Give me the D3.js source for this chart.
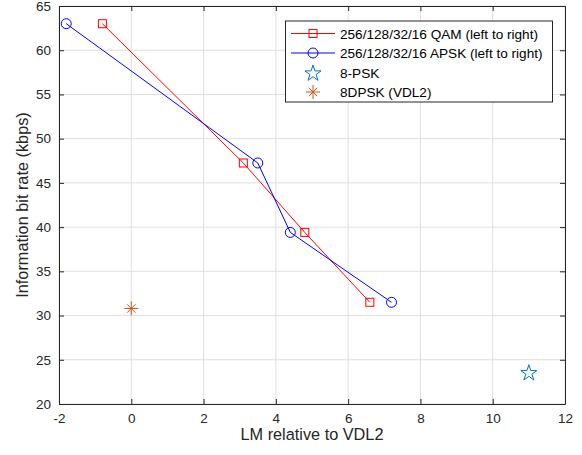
<!DOCTYPE html>
<html>
<head>
<meta charset="utf-8">
<script src="https://cdn.jsdelivr.net/npm/d3@7"></script>
<style>
  body { margin: 0; background: #fff; }
  text { font-family: "Liberation Sans", Arial, sans-serif; }
</style>
</head>
<body>
<div class="chart"></div>
<script>
// QAM and APSK results (left to right)
const qamLM = [-0.8, 3.1, 4.8, 6.6];
const qamRate = [63, 47.25, 39.4, 31.5];
const apskLM = [-1.8, 3.5, 4.4, 7.2];
const apskRate = [63, 47.25, 39.4, 31.5];
const psk8 = [{lm: 11, rate: 23.6}];
const dpsk8 = [{lm: 0, rate: 30.8}];

const xTicks = [-2, 0, 2, 4, 6, 8, 10, 12];
const yTicks = [20, 25, 30, 35, 40, 45, 50, 55, 60, 65];

const legendLabels = [
  '256/128/32/16 QAM (left to right)',
  '256/128/32/16 APSK (left to right)',
  '8-PSK',
  '8DPSK (VDL2)'
];

const width = 582;
const height = 455;
const margin = {top: 6, left: 59, right: 17, bottom: 51};

const x = d3.scaleLinear().domain([-2, 12]).range([margin.left, width - margin.right]);
const y = d3.scaleLinear().domain([20, 65]).range([height - margin.bottom, margin.top]);

const svg = d3.select('.chart').append('svg')
  .attr('width', width).attr('height', height);

const axisColor = '#262626';

// grid
svg.append('g').selectAll('line').data(xTicks).enter().append('line')
  .attr('x1', d => x(d)).attr('x2', d => x(d))
  .attr('y1', y(20)).attr('y2', y(65))
  .attr('stroke', '#dfdfdf').attr('stroke-width', 1);
svg.append('g').selectAll('line').data(yTicks).enter().append('line')
  .attr('x1', x(-2)).attr('x2', x(12))
  .attr('y1', d => y(d)).attr('y2', d => y(d))
  .attr('stroke', '#dfdfdf').attr('stroke-width', 1);

// axes with inward ticks
function styleAxis(g) {
  g.select('.domain').attr('stroke', axisColor);
  g.selectAll('.tick line').attr('stroke', axisColor);
  g.selectAll('.tick text').attr('fill', axisColor)
    .style('font-size', '13.5px').style('font-family', '"Liberation Sans", Arial, sans-serif');
}
const fmt = d => String(d);
svg.append('g').attr('transform', `translate(0,${y(20)})`)
  .call(d3.axisBottom(x).tickValues(xTicks).tickFormat(fmt).tickSizeInner(-5).tickSizeOuter(0).tickPadding(9))
  .call(styleAxis);
svg.append('g').attr('transform', `translate(0,${y(65)})`)
  .call(d3.axisTop(x).tickValues(xTicks).tickSizeInner(-5).tickSizeOuter(0).tickFormat(''))
  .call(styleAxis);
svg.append('g').attr('transform', `translate(${x(-2)},0)`)
  .call(d3.axisLeft(y).tickValues(yTicks).tickFormat(fmt).tickSizeInner(-5).tickSizeOuter(0).tickPadding(8))
  .call(styleAxis);
svg.append('g').attr('transform', `translate(${x(12)},0)`)
  .call(d3.axisRight(y).tickValues(yTicks).tickSizeInner(-5).tickSizeOuter(0).tickFormat(''))
  .call(styleAxis);

// axis titles
svg.append('text')
  .attr('x', (x(-2) + x(12)) / 2).attr('y', 440)
  .attr('text-anchor', 'middle').attr('fill', axisColor)
  .style('font-size', '16.3px').text('LM relative to VDL2');
svg.append('text')
  .attr('transform', `translate(28,${(y(20) + y(65)) / 2}) rotate(-90)`)
  .attr('text-anchor', 'middle').attr('fill', axisColor)
  .style('font-size', '16.3px').text('Information bit rate (kbps)');

const line = d3.line().x(d => x(d[0])).y(d => y(d[1]));
const qam = qamLM.map((v, i) => [v, qamRate[i]]);
const apsk = apskLM.map((v, i) => [v, apskRate[i]]);

svg.append('path').datum(qam).attr('d', line)
  .attr('fill', 'none').attr('stroke', '#ff0000').attr('stroke-width', 1);
svg.append('g').selectAll('rect').data(qam).enter().append('rect')
  .attr('x', d => x(d[0]) - 4).attr('y', d => y(d[1]) - 4)
  .attr('width', 8).attr('height', 8)
  .attr('fill', 'none').attr('stroke', '#ff0000').attr('stroke-width', 1);

svg.append('path').datum(apsk).attr('d', line)
  .attr('fill', 'none').attr('stroke', '#0000ff').attr('stroke-width', 1);
svg.append('g').selectAll('circle').data(apsk).enter().append('circle')
  .attr('cx', d => x(d[0])).attr('cy', d => y(d[1])).attr('r', 5)
  .attr('fill', 'none').attr('stroke', '#0000ff').attr('stroke-width', 1);

const star = d3.symbol().type(d3.symbolStar).size(80);
svg.append('g').selectAll('path').data(psk8).enter().append('path')
  .attr('d', star)
  .attr('transform', d => `translate(${x(d.lm)},${y(d.rate) + 1})`)
  .attr('fill', 'none').attr('stroke', '#0072bd').attr('stroke-width', 1);

// MATLAB-style asterisk: plus and cross
function asterisk(g, cx, cy, r) {
  [0, 45, 90, 135].forEach(a => {
    const rad = a * Math.PI / 180;
    const rr = a % 90 === 0 ? r : r * 0.85;
    g.append('line')
      .attr('x1', cx - rr * Math.sin(rad)).attr('y1', cy - rr * Math.cos(rad))
      .attr('x2', cx + rr * Math.sin(rad)).attr('y2', cy + rr * Math.cos(rad))
      .attr('stroke', '#d95319').attr('stroke-width', 1);
  });
}
dpsk8.forEach(d => asterisk(svg.append('g'), x(d.lm), y(d.rate), 7));

// legend
const lg = svg.append('g');
lg.append('rect').attr('x', 285.5).attr('y', 21).attr('width', 267).attr('height', 81)
  .attr('fill', '#fff').attr('stroke', axisColor).attr('stroke-width', 1);
const rowY = i => 33.5 + i * 19.5;
legendLabels.forEach((t, i) => {
  lg.append('text').attr('x', 340).attr('y', rowY(i) + 5)
    .attr('fill', '#000').style('font-size', '13.6px').text(t);
});
lg.append('line').attr('x1', 291).attr('x2', 335).attr('y1', rowY(0)).attr('y2', rowY(0))
  .attr('stroke', '#ff0000');
lg.append('rect').attr('x', 309).attr('y', rowY(0) - 4).attr('width', 8).attr('height', 8)
  .attr('fill', 'none').attr('stroke', '#ff0000');
lg.append('line').attr('x1', 291).attr('x2', 335).attr('y1', rowY(1)).attr('y2', rowY(1))
  .attr('stroke', '#0000ff');
lg.append('circle').attr('cx', 313).attr('cy', rowY(1)).attr('r', 5)
  .attr('fill', 'none').attr('stroke', '#0000ff');
lg.append('path').attr('d', star).attr('transform', `translate(313,${rowY(2) + 1})`)
  .attr('fill', 'none').attr('stroke', '#0072bd');
asterisk(lg, 313, rowY(3), 7);
</script>
</body>
</html>
